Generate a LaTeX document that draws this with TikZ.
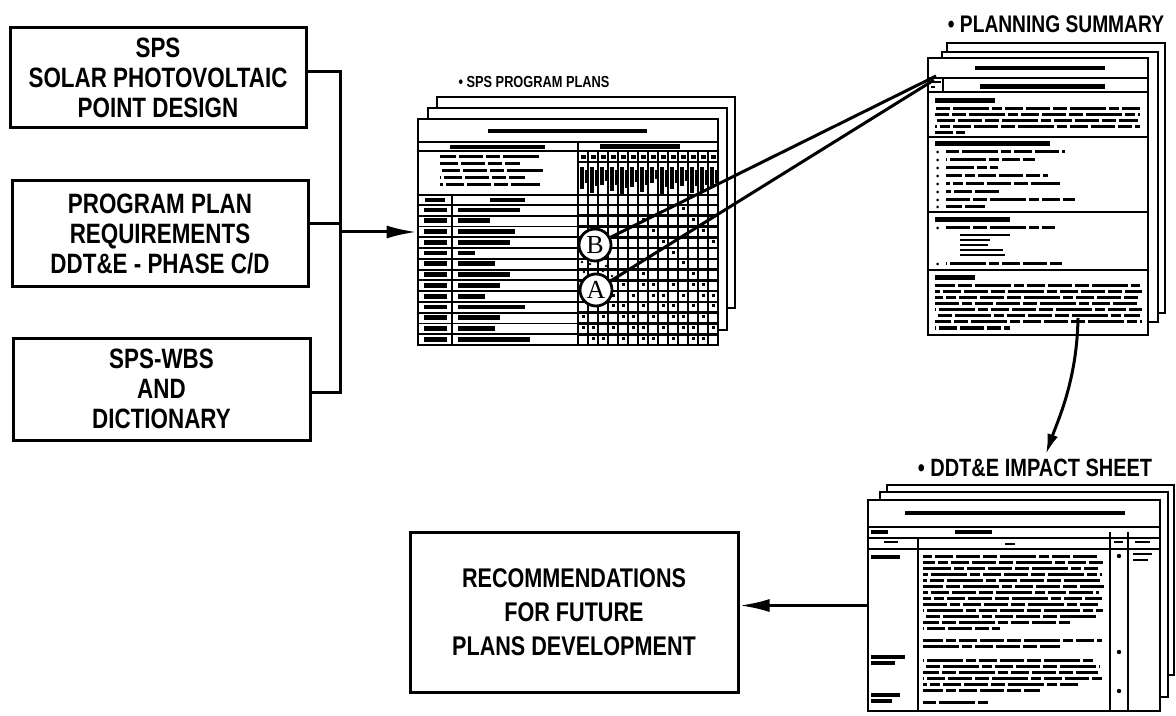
\documentclass[tikz,border=0pt]{standalone}
\usepackage{fontspec}
\setmainfont{Liberation Sans}
\newfontfamily\lett{Liberation Sans Bold}[FakeStretch=0.8]
\newfontfamily\ser{Liberation Serif}
\usetikzlibrary{arrows.meta}
\begin{document}
\begin{tikzpicture}[x=0.5pt,y=-0.5pt,
  box/.style={draw, line width=1.5pt, align=center, inner sep=0pt,
    font=\lett\fontsize{14}{15}\selectfont},
  page/.style={draw, fill=white, line width=1.3pt, inner sep=0pt},
  conn/.style={line width=1.5pt},
  arr/.style={conn, -{Latex[length=15pt,width=6.5pt]}},
  lbl/.style={inner sep=0pt, font=\lett\fontsize{12}{12}\selectfont},
  rule/.style={line width=0.9pt},
  txt/.style={line width=1.5pt, dash pattern=on 12pt off 1.5pt on 7pt off 1.5pt on 18pt off 1.5pt on 5pt off 1.5pt on 9pt off 1.5pt},
  hd/.style={line width=2.4pt},
  circ/.style={draw, circle, fill=white, line width=1.4pt, minimum size=16pt, inner sep=0pt,
    font=\ser\fontsize{13}{13}\selectfont}]
\useasboundingbox (0,0) rectangle (1176,716);
\clip (0,0) rectangle (1176,716);

% ---------------- left input boxes
\node[box, minimum width=148pt, minimum height=50pt] (b1) at (158,78) {SPS\\SOLAR PHOTOVOLTAIC\\POINT DESIGN};
\node[box, minimum width=148pt, minimum height=53pt] (b2) at (160,234) {PROGRAM PLAN\\REQUIREMENTS\\DDT\&E - PHASE C/D};
\node[box, minimum width=148.5pt, minimum height=51pt] (b3) at (161.5,389) {SPS-WBS\\AND\\DICTIONARY};

\coordinate (bt) at (340,72);
\coordinate (bm) at (340,224);
\coordinate (bo) at (340,232);
\coordinate (bb) at (340,392);
\draw[conn] (b1.east |- bt) -- (bt) -- (bb) -- (b3.east |- bb);
\draw[conn] (b2.east |- bm) -- (bm);

% ---------------- program plans stack
\node[page, minimum width=149pt, minimum height=105.5pt] (pp3) at (586,202.5) {};
\node[page, minimum width=149.5pt, minimum height=111pt] (pp2) at (577.5,219) {};
\node[page, minimum width=150pt, minimum height=113pt] (pp1) at (568,232) {};
\node[lbl, font=\lett\fontsize{8}{8}\selectfont] (lpp) at (534,82) {• SPS PROGRAM PLANS};

\draw[hd] (488,131) -- (647,131);
\draw[rule] (418,142) -- (718,142);
\draw[rule] (578,142) -- (578,345);
\draw[hd] (450,147) -- (545,147);
\draw[rule] (418,151) -- (718,151);
\foreach \y/\b in {157/540,164/520,171/545,178/525,185/540}{
  \pgfmathsetmacro\ph{mod(\y*7,50)}
  \draw[txt, dash phase=\ph pt] (440,\y) -- (\b,\y);
}
\draw[rule] (418,195) -- (578,195);
\draw[rule] (452,195) -- (452,345);
\draw[hd] (425,200) -- (445,200);
\draw[hd] (490,200) -- (525,200);
\draw[rule] (418,205) -- (578,205);
\foreach \i/\b in {0/520,1/490,2/515,3/510,4/475,5/495,6/510,7/500,8/485,9/525,10/500,11/495,12/530}{
  \draw[hd] (424,210+10.77*\i) -- (447,210+10.77*\i);
  \draw[hd] (458,210+10.77*\i) -- (\b,210+10.77*\i);
  \draw[rule] (418,215.77+10.77*\i) -- (578,215.77+10.77*\i);
}
% matrix header
\draw[hd] (600,146.5) -- (680,146.5);
\foreach \k in {0,...,13} \fill (581+10*\k,155) rectangle (586+10*\k,159);
\draw[rule] (578,162) -- (718,162);
\foreach \k/\l in {0/22,1/26,2/18,3/24,4/28,5/20,6/25,7/16,8/27,9/22,10/19,11/26,12/24,13/21}{
  \draw[line width=1.6pt] (582+10*\k,167) -- (582+10*\k,167+\l);
  \draw[line width=1.3pt] (586+10*\k,170) -- (586+10*\k,168+0.7*\l);
}
% matrix grid
\foreach \k in {0,...,14} \draw[line width=1.3pt] (578+10*\k,151) -- (578+10*\k,345);
\draw[line width=1.3pt] (578,195) -- (718,195);
\foreach \i in {0,...,13} \draw[line width=1.3pt] (578,205+10.77*\i) -- (718,205+10.77*\i);
\foreach \r in {0,...,12}{
  \foreach \c in {0,...,13}{
    \pgfmathtruncatemacro\s{mod(\r*7+\c*3,5)}
    \ifnum\r>6
      \ifnum\s<3 \fill (581.5+10*\c,207.5+10.77*\r) rectangle (584.5+10*\c,210.5+10.77*\r); \fi
    \else
      \ifnum\c>5 \ifnum\s<1 \fill (581.5+10*\c,207.5+10.77*\r) rectangle (584.5+10*\c,210.5+10.77*\r); \fi\fi
    \fi
  }
}
\foreach \x/\y in {582/262,590/264,598/263,606/266,584/272,594/274,603/271,612/276}
  \fill (\x,\y) circle (1.4);

\node[circ] (B) at (595,245) {B};
\node[circ] (A) at (596,290) {A};

\draw[arr] (bo) -- (pp1.west);

% ---------------- planning summary stack
\node[page, minimum width=109pt, minimum height=135pt] (ps3) at (1056,178) {};
\node[page, minimum width=108pt, minimum height=135pt] (ps2) at (1050,187) {};
\node[page, minimum width=110pt, minimum height=138.5pt] (ps1) at (1038,196.5) {};
\node[lbl] (lps) at (1056,24) {• PLANNING SUMMARY};

\draw[hd] (975,68) -- (1105,68);
\draw[rule] (928,78) -- (1148,78);
\draw[rule] (943,78) -- (943,92);
\draw[line width=1.2pt] (931,82) -- (941,82);
\draw[line width=1.2pt] (931,87) -- (935,87);
\draw[hd] (980,86.5) -- (1105,86.5);
\draw[rule] (928,92) -- (1148,92);
\draw[hd] (935,100.5) -- (995,100.5);
\foreach \y/\b in {109/1140,115/1140,121/1138,127/1140,133/965}{
  \pgfmathsetmacro\ph{mod(\y*7,50)}
  \draw[txt, dash phase=\ph pt] (935,\y) -- (\b,\y);
}
\draw[rule] (928,137) -- (1148,137);
\draw[hd] (935,143.5) -- (1050,143.5);
\foreach \y/\b in {152/1065,160/1035,168/998,176/1048,184/1060,192/1000,200/1075,207/985}{
  \pgfmathsetmacro\ph{mod(\y*7,50)}
  \fill (937.5,\y) circle (1.5);
  \draw[txt, dash phase=\ph pt] (946,\y) -- (\b,\y);
}
\draw[rule] (928,212) -- (1148,212);
\draw[hd] (935,219.5) -- (1010,219.5);
\fill (937.5,228) circle (1.5); \draw[txt] (946,228) -- (1055,228);
\foreach \y/\b in {235/1010,240/990,245/988,250/1003,255/1005}
  \draw[line width=1.2pt] (960,\y) -- (\b,\y);
\fill (937.5,264) circle (1.5); \draw[txt, dash phase=20pt] (946,264) -- (1062,264);
\draw[rule] (928,270) -- (1148,270);
\draw[hd] (935,277.5) -- (975,277.5);
\foreach \y/\b in {286/1140,292/1142,298/1138,304/1140,310/1142,316/1140,322/1142,328/1010}{
  \pgfmathsetmacro\ph{mod(\y*7,50)}
  \draw[txt, dash phase=\ph pt] (935,\y) -- (\b,\y);
}

% lines from A and B to planning summary
\coordinate (pc1) at (936,76);
\coordinate (pc2) at (934,80);
\draw[conn] (B) -- (pc1);
\draw[conn] (A) -- (pc2);

% ---------------- impact sheet stack
\node[page, minimum width=143.5pt, minimum height=95pt] (is3) at (1030.5,580) {};
\node[page, minimum width=144pt, minimum height=102.5pt] (is2) at (1024,594.5) {};
\node[page, minimum width=146pt, minimum height=105.5pt] (is1) at (1014,605.5) {};
\node[lbl, font=\lett\fontsize{12.5}{12.5}\selectfont] (lis) at (1035,468) {• DDT\&E IMPACT SHEET};

\draw[hd] (905,513) -- (1125,513);
\draw[rule] (868,527) -- (1160,527);
\draw[hd] (871,532) -- (888,532);
\draw[hd] (955,532) -- (992,532);
\draw[rule] (868,538) -- (1160,538);
\draw[rule] (868,549) -- (1160,549);
\draw[rule] (918,538) -- (918,711);
\draw[rule] (1110,532) -- (1110,711);
\draw[rule] (1128,532) -- (1128,711);
\draw[line width=1.2pt] (884,542) -- (898,542);
\draw[line width=1.2pt] (1005,544) -- (1015,544);
\draw[line width=1.2pt] (1114,542) -- (1123,542);
\draw[line width=1.2pt] (1135,542) -- (1150,542);
\foreach \y/\b in {556/1100,562/1103,568/1098,574/1102,580/1100,586/1104,592/1099,598/1102,604/1100,610/1103,616/1096,622/1070,628/1000,
  640/1102,646/1060,660/1095,666/1100,672/1098,678/1102,684/1080,690/1040,702/990}{
  \pgfmathsetmacro\ph{mod(\y*7,50)}
  \draw[txt, dash phase=\ph pt] (923,\y) -- (\b,\y);
}
\draw[hd] (871,557) -- (900,557);
\draw[hd] (871,657) -- (905,657);
\draw[hd] (871,663) -- (895,663);
\draw[hd] (871,695) -- (900,695);
\draw[hd] (871,701) -- (892,701);
\fill (1119,556) circle (2.2);
\fill (1119,652) circle (2.2);
\fill (1119,691) circle (2.2);
\draw[line width=1.2pt] (1133,554) -- (1152,554);
\draw[line width=1.2pt] (1133,560) -- (1148,560);

% arrow summary -> impact sheet
\coordinate (cs) at (1078,318);
\coordinate (ce) at (1046,454);
\draw[conn, -{Latex[length=10pt,width=5.5pt]}] (cs) .. controls (1077,380) and (1058,420) .. (ce);

% ---------------- recommendations
\node[box, font=\lett\fontsize{13.5}{17}\selectfont, minimum width=164pt, minimum height=80pt] (rec) at (574,612) {RECOMMENDATIONS\\FOR FUTURE\\PLANS DEVELOPMENT};
\draw[arr] (is1.west) -- (rec.east |- is1.west);
\end{tikzpicture}
\end{document}
